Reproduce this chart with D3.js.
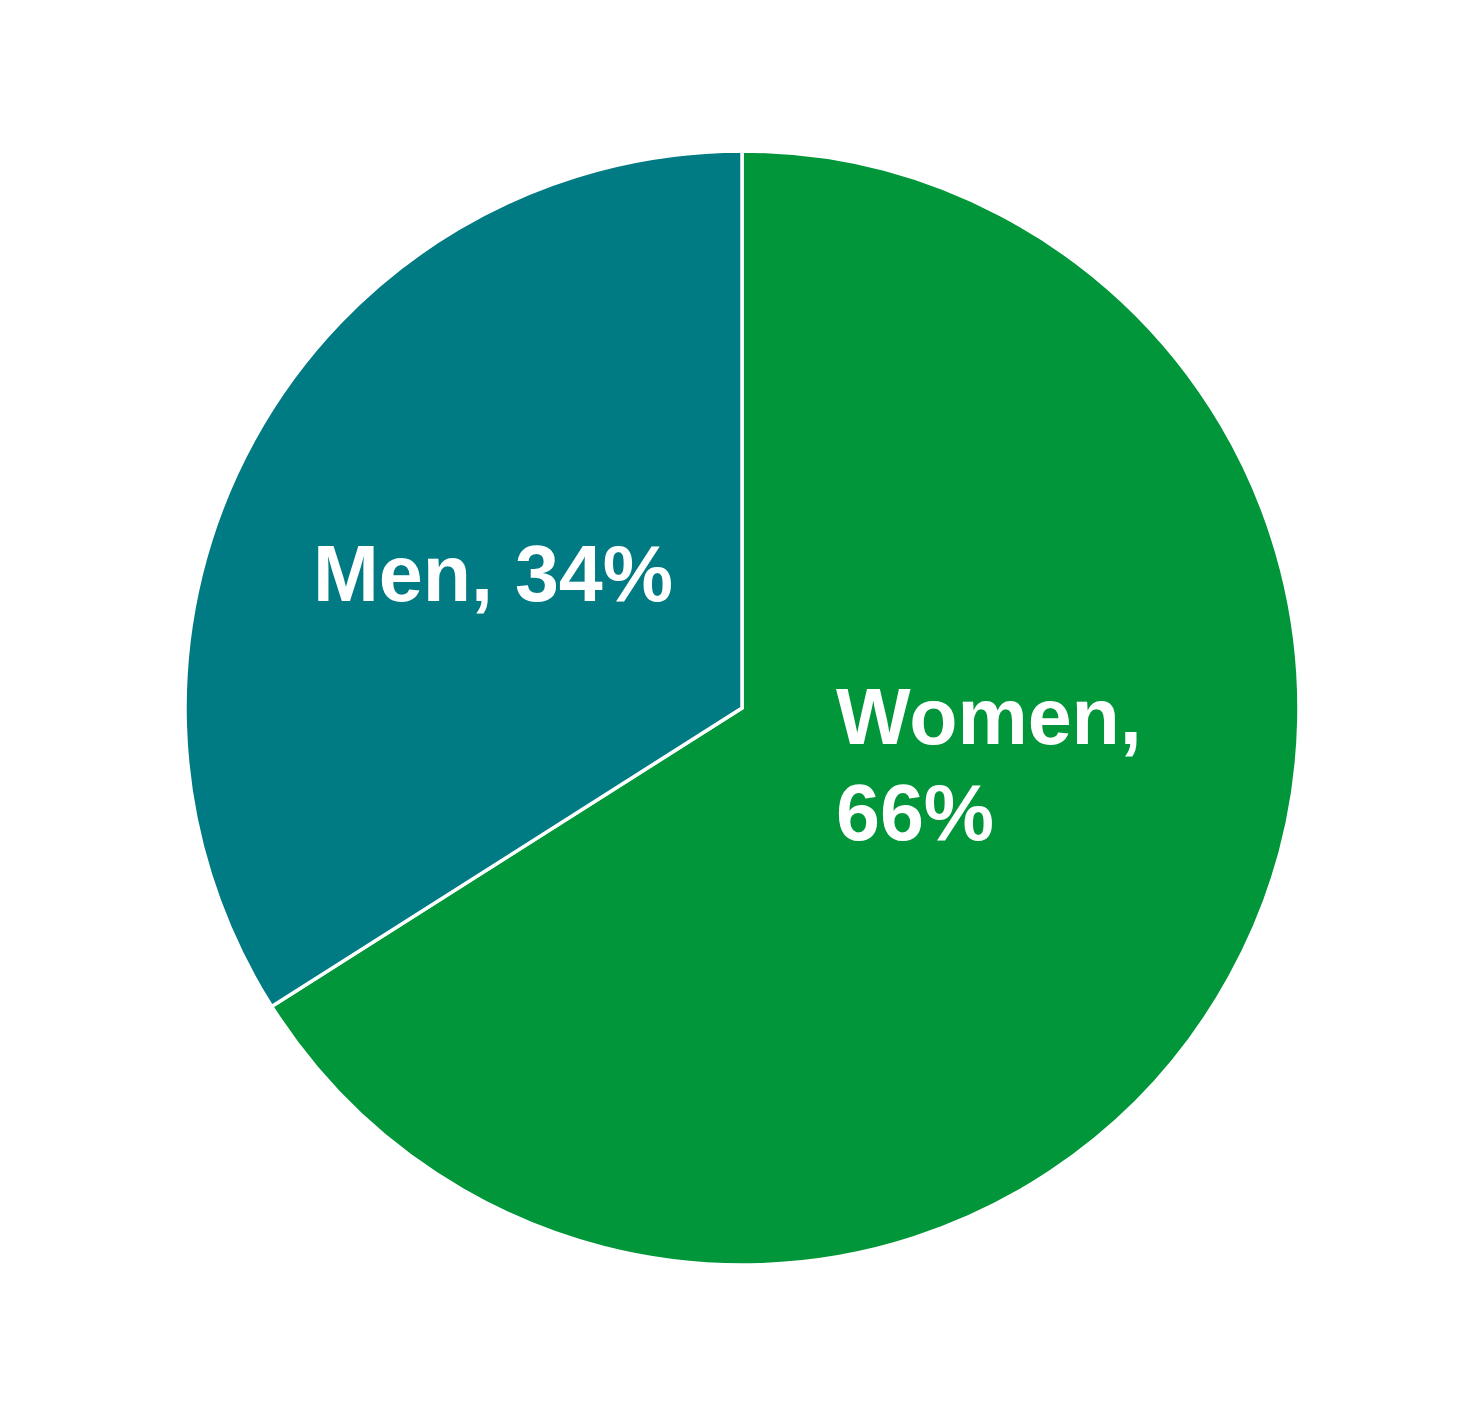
<!DOCTYPE html>
<html>
<head>
<meta charset="utf-8">
<script src="https://cdn.jsdelivr.net/npm/d3@7"></script>
<style>
  body { margin: 0; background: #fff; }
  text { font-family: "Liberation Sans", Arial, sans-serif; font-weight: bold; }
</style>
</head>
<body>
<div id="chart"></div>
<script>
// pie data
const categories = ["Women", "Men"];
const shares = [66, 34];
const colors = ["#009639", "#007A83"];

const width = 1482, height = 1416;
const cx = 742, cy = 708, radius = 557;

const svg = d3.select("#chart")
    .append("svg")
    .attr("width", width)
    .attr("height", height);

const g = svg.append("g")
    .attr("transform", `translate(${cx},${cy})`);

const pie = d3.pie().sort(null).value(d => d);
const arc = d3.arc().innerRadius(0).outerRadius(radius);

const arcs = pie(shares);

g.selectAll("path")
    .data(arcs)
    .enter()
    .append("path")
    .attr("d", arc)
    .attr("fill", (_, i) => colors[i])
    .attr("stroke", "white")
    .attr("stroke-width", 3.5)
    .attr("stroke-linejoin", "miter");

// label anchors (relative to pie centre), each label split into lines
const labelPos = [[94, 36], [-429, -107]];
const labelLines = [
    [categories[0] + ",", shares[0] + "%"],
    [categories[1] + ", " + shares[1] + "%"]
];

labelLines.forEach((lines, i) => {
    const t = g.append("text")
        .attr("x", labelPos[i][0])
        .attr("y", labelPos[i][1])
        .attr("fill", "white")
        .style("font-size", "79px");
    lines.forEach((ln, j) => {
        t.append("tspan")
            .attr("x", labelPos[i][0])
            .attr("dy", j === 0 ? 0 : 96)
            .text(ln);
    });
});
</script>
</body>
</html>
